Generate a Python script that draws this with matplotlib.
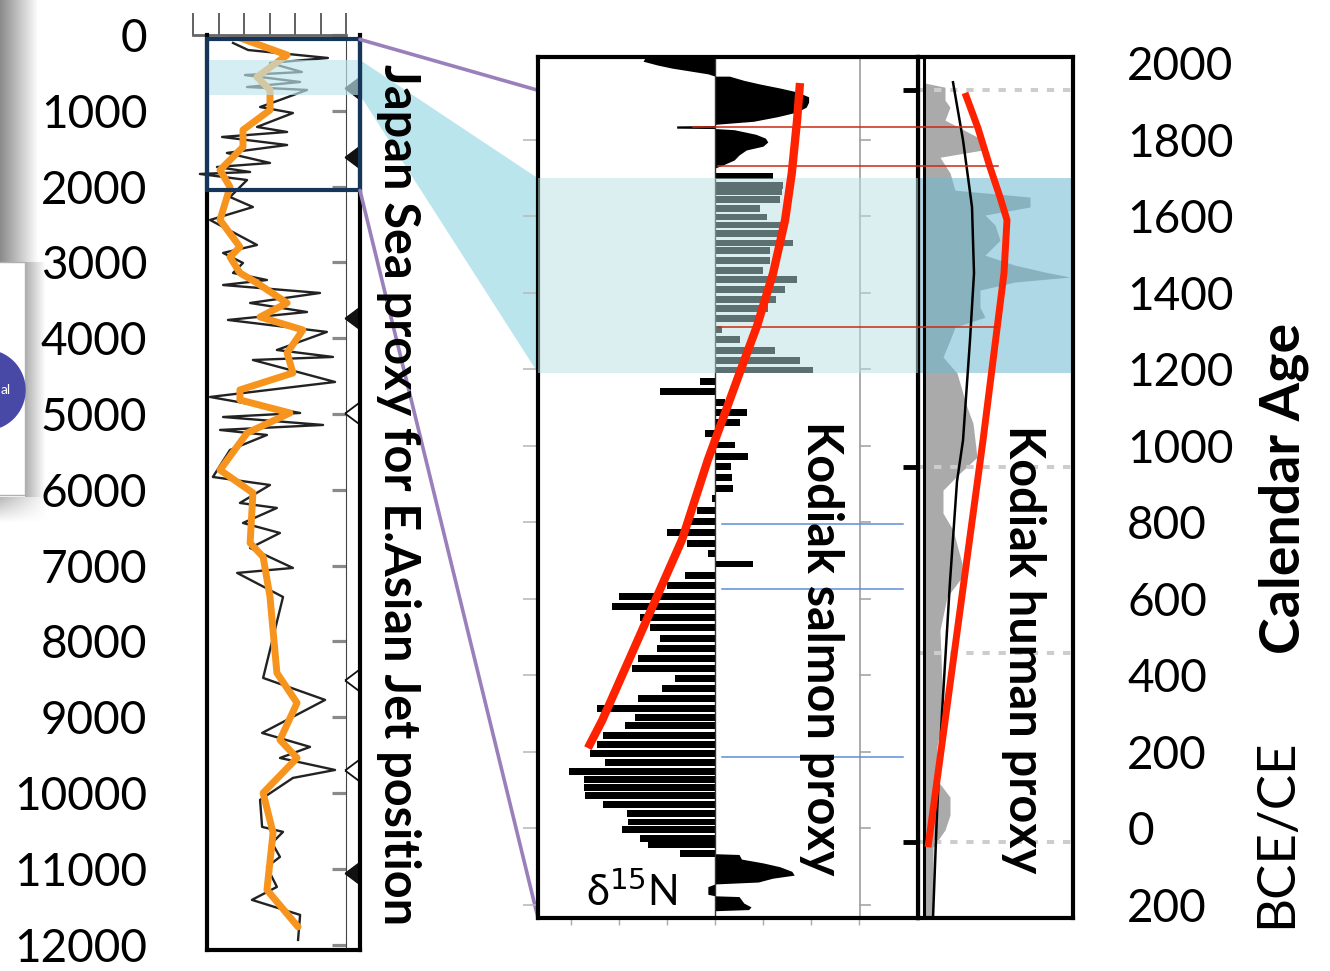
import numpy as np
import matplotlib
matplotlib.use('Agg')
import matplotlib.pyplot as plt
from matplotlib.patches import Rectangle, Polygon, Circle, ConnectionPatch
from matplotlib.transforms import blended_transform_factory

plt.rcParams['font.family'] = ['Lato', 'DejaVu Sans']

# ---------------- Japan Sea proxy (years BP) ----------------
bp_ticks = list(range(0, 12001, 1000))
bp_labels = [str(t) for t in bp_ticks]

jsp_age = [105, 198, 303, 369, 488, 528, 620, 686, 725, 857, 950, 1029, 1213, 1279, 1345,
           1451, 1556, 1688, 1741, 1807, 1833, 1913, 2137, 2269, 2440, 2770, 2875, 3007, 3139,
           3232, 3298, 3403, 3535, 3654, 3759, 3917, 4155, 4247, 4287, 4577, 4775, 4986, 5039,
           5144, 5210, 5276, 5474, 5830, 5936, 6173, 6239, 6437, 6569, 6767, 7030, 7096, 7413,
           8481, 8771, 9207, 9391, 9537, 9695, 9800, 10090, 10446, 10512, 10658, 10842, 10974,
           11238, 11409, 11607, 11937]
jsp_val = [1.57, 2.16, 5.29, 3.02, 4.27, 2.04, 4.20, 2.12, 4.47, 3.41, 2.63, 3.92, 2.51, 3.69, 1.14,
           3.69, 1.33, 3.02, 0.94, 2.24, 0.27, 2.12, 1.45, 2.35, 0.67, 2.51, 1.18, 1.96, 1.57,
           2.90, 1.18, 4.98, 2.24, 4.47, 1.37, 5.25, 3.29, 5.49, 2.35, 5.57, 0.67, 4.20, 1.18,
           5.10, 1.06, 2.90, 1.45, 0.78, 3.02, 1.84, 3.29, 1.96, 3.41, 2.24, 3.92, 1.73, 3.53,
           2.75, 5.18, 2.71, 4.59, 3.41, 5.57, 3.92, 2.63, 2.71, 3.53, 3.10, 3.41, 2.90,
           3.29, 2.31, 4.20, 4.12]

jsp_smooth_age = [0, 264, 554, 725, 989, 1253, 1477, 1781, 2005, 2440, 2796, 2928, 3139, 3271,
                  3535, 3720, 3891, 4194, 4458, 4682, 4814, 4986, 5250, 5738, 6041, 6701, 6885,
                  7413, 8415, 8811, 9299, 9537, 9998, 10525, 11277, 11765]
jsp_smooth_val = [1.53, 3.69, 2.51, 3.02, 3.02, 1.96, 1.96, 1.06, 1.45, 1.06, 1.84, 1.45, 1.84, 2.51,
                  3.69, 2.63, 4.31, 3.69, 3.92, 1.84, 1.84, 3.80, 2.12, 1.06, 2.35, 2.24, 2.75,
                  3.02, 3.29, 4.08, 3.41, 4.08, 2.75, 3.14, 2.90, 4.12]

tri_filled_age = [699, 1610, 3733, 11055]
tri_open_age = [4987, 8509, 9697]
zoom_bp = (59, 2051)
band_bp = (330, 792)

# ---------------- Kodiak salmon (calendar years) ----------------
cal_ticks = [2000, 1800, 1600, 1400, 1200, 1000, 800, 600, 400, 200, 0, -200]
cal_labels = ['2000', '1800', '1600', '1400', '1200', '1000', '800', '600', '400', '200', '0', '200']
band_ce = (1190, 1699)

salmon_bar_age = [1705, 1681, 1664, 1644, 1620, 1598, 1577, 1555, 1530, 1510, 1485, 1459, 1435,
                  1409, 1383, 1359, 1333, 1304, 1278, 1250, 1222, 1198, 1169, 1141, 1113, 1086,
                  1060, 1032, 1002, 973, 945, 916, 889, 862, 832, 802, 773, 745, 719, 691, 662,
                  636, 607, 579, 552, 525, 497, 470, 444, 418, 392, 366, 340, 313, 290, 268, 242,
                  220, 196, 173, 150, 127, 106, 85, 63, 39, 17, -3, -26, -43, -65]
salmon_bar_val = [1.21, 1.42, 1.39, 1.35, 0.94, 1.08, 1.49, 1.42, 1.63, 1.15, 1.15, 1.00, 1.70,
                  1.46, 1.28, 1.10, 0.87, 0.14, 0.52, 1.25, 1.77, 2.04, -0.31, -1.15, 0.20, 0.66,
                  0.52, -0.20, 0.42, 0.69, 0.33, 0.35, 0.38, -0.07, -0.38, -0.52, -1.00, -0.59,
                  -0.15, 0.80, -0.63, -1.00, -2.01, -2.15, -1.56, -1.35, -1.15, -1.22, -1.60,
                  -1.74, -0.83, -1.11, -1.60, -2.47, -1.67, -1.88, -2.33, -2.47, -2.60, -2.29,
                  -3.05, -2.74, -2.74, -2.71, -2.33, -1.84, -1.81, -1.94, -1.56, -1.39, -0.73]

salmon_top_age = [2016, 2005, 1995, 1987, 1979, 1972, 1966, 1966, 1955, 1945, 1935, 1925, 1912,
                  1898, 1885, 1872, 1860, 1848, 1840, 1837, 1836, 1830, 1829, 1826, 1814, 1804,
                  1794, 1783, 1773, 1760, 1747, 1733, 1726]
salmon_top_val = [-1.45, -1.5, -1.2, -0.9, -0.5, -0.15, 0.0, 0.3, 0.6, 0.95, 1.35, 1.7, 1.95,
                  1.95, 1.9, 1.7, 1.3, 0.8, 0.0, 0.0, -0.8, -0.8, 0.0, 0.4, 0.85, 1.05,
                  1.1, 1.0, 0.65, 0.5, 0.4, 0.15, 0.0]

salmon_bot_age = [-66, -68, -80, -90, -100, -112, -122, -130, -140, -145, -152, -172, -176,
                  -178, -195, -205, -212, -215]
salmon_bot_val = [0.0, 0.5, 0.55, 1.0, 1.35, 1.6, 1.65, 1.2, 0.9, 0.0, -0.15, -0.15, 0.0,
                  0.5, 0.6, 0.75, 0.7, 0.0]

salmon_trend_age = [1948, 1851, 1713, 1590, 1451, 1315, 1193, 963, 754, 518, 283, 210]
salmon_trend_val = [1.77, 1.71, 1.60, 1.46, 1.21, 0.88, 0.52, -0.15, -0.69, -1.52, -2.35, -2.65]

red_mark_age = [1833, 1731, 1310]
red_mark_x0 = [-0.46, 0.06, 0.06]
red_mark_x1 = [5.38, 5.90, 5.88]
blue_mark_age = [795, 625, 187]

# ---------------- Kodiak human ----------------
human_age = [1948, 1937, 1903, 1885, 1851, 1799, 1773, 1754, 1713, 1668, 1650, 1624, 1603, 1577,
             1537, 1498, 1472, 1454, 1441, 1428, 1407, 1362, 1336, 1310, 1276, 1232, 1190, 1101,
             1059, 970, 929, 884, 824, 780, 693, 657, 605, 518, 302, 213, 127, 82, 35, -4, -49, -240]
human_val = [0, 2.0, 2.0, 2.5, 2.0, 5.8, 5.8, 1.5, 2.5, 3.0, 10.5, 10.5, 6.0, 7.0,
             7.5, 6.0, 9.0, 12.0, 14.5, 9.0, 5.5, 5.5, 6.0, 3.0, 2.5, 1.8, 3.2, 4.2,
             4.8, 5.2, 3.5, 1.8, 1.8, 2.8, 3.7, 3.7, 2.2, 1.5, 1.8, 1.2, 1.2, 2.5, 2.5, 2.0, 0.8, 0.8]
human_fit_age = [1950, 1799, 1624, 1451, 1276, 1014, 907, 645, 302, 40, -234]
human_fit_val = [2.8, 3.8, 4.7, 4.9, 4.5, 3.8, 3.2, 2.5, 1.7, 1.2, 0.8]
human_trend_age = [1922, 1830, 1728, 1650, 1590, 1451, 1014, -49]
human_trend_val = [4.0, 5.3, 6.5, 7.5, 8.2, 7.9, 5.8, 0.3]
dotted_age = [1929, 944, 458, -36]
side_tick_age = [1929, 944, -36]

W, H = 1330, 971
fig = plt.figure(figsize=(W / 100, H / 100), dpi=100)


def box(x0, y0, x1, y1):
    return [x0 / W, 1 - y1 / H, (x1 - x0) / W, (y1 - y0) / H]


# leftover bits of the slide on the far left
ax_bg = fig.add_axes([0, 0, 1, 1], zorder=0)
ax_bg.axis('off')
ys, xs = np.mgrid[0:530, 0:50]
alpha = np.zeros((530, 50))
top = ys < 262
alpha[top] = np.clip(1 - xs[top] / 38, 0, 1) * 0.65
mid = (ys >= 262) & (ys < 497) & (xs >= 25)
alpha[mid] = np.clip(1 - (xs[mid] - 25) / 20, 0, 1) * 0.45
bot = ys >= 497
alpha[bot] = np.clip(1 - (ys[bot] - 497) / 25, 0, 1) * np.clip(1 - xs[bot] / 48, 0, 1) * 0.4
img = np.zeros((530, 50, 4))
img[..., :3] = 0.3
img[..., 3] = alpha
ax_bg.imshow(img, extent=(0, 50, 530, 0), interpolation='bilinear', aspect='auto')
ax_bg.add_patch(Rectangle((-3, 262), 28, 233, facecolor='white', edgecolor='#b0b0b0', lw=1))
ax_bg.add_patch(Circle((-15, 390), 40, color='#4848a6'))
ax_bg.text(1, 390, 'al', color='white', fontsize=10, va='center')
ax_bg.set_xlim(0, W)
ax_bg.set_ylim(H, 0)

# ---- left: Japan Sea record ----
ax_j = fig.add_axes(box(193, 35, 346, 950), zorder=1)
ax_j.patch.set_visible(False)
ax_j.plot(jsp_val, jsp_age, color='#222222', lw=1.7)
ax_j.plot(jsp_smooth_val, jsp_smooth_age, color='#f7941d', lw=5, solid_joinstyle='round',
          solid_capstyle='round')
ax_j.set_xlim(0, 6)
ax_j.set_ylim(12070, 0)
ax_j.set_xticks(range(7))
ax_j.set_yticks(bp_ticks)
ax_j.tick_params(axis='x', top=True, bottom=False, direction='out', length=16, width=1.3,
                 color='#555555', labeltop=False, labelbottom=False)
ax_j.tick_params(axis='y', left=False, right=True, direction='in', length=10, width=2.3,
                 color='#8a8a8a', labelleft=False, labelright=False)
for s in ['left', 'bottom']:
    ax_j.spines[s].set_visible(False)
ax_j.spines['top'].set_color('#666666')
ax_j.spines['top'].set_linewidth(2)
ax_j.spines['right'].set_color('#444444')
ax_j.spines['right'].set_linewidth(0.8)

ax_box = fig.add_axes(box(207, 35, 360, 950), zorder=2)
ax_box.patch.set_visible(False)
ax_box.set_xlim(0, 1)
ax_box.set_ylim(12070, 0)
ax_box.set_xticks([])
ax_box.set_yticks(bp_ticks)
ax_box.set_yticklabels(bp_labels)
ax_box.tick_params(axis='y', length=0, pad=43, labelsize=33)
ax_box.spines['top'].set_visible(False)
for s in ['left', 'right', 'bottom']:
    ax_box.spines[s].set_linewidth(3)
    ax_box.spines[s].set_color('black')
bt_box = blended_transform_factory(ax_box.transAxes, ax_box.transData)
tri = [(-1, 0), (1, -1.5), (1, 1.5), (-1, 0)]
ax_box.plot([0.945] * len(tri_filled_age), tri_filled_age, ls='none', marker=tri, ms=16,
            color='#111111', transform=bt_box, clip_on=False, zorder=2)
ax_box.plot([0.945] * len(tri_open_age), tri_open_age, ls='none', marker=tri, ms=16,
            mfc='white', mec='#111111', mew=1.3, transform=bt_box, clip_on=False, zorder=2)
ax_box.axhspan(band_bp[0], band_bp[1], color='#bfe6ee', alpha=0.65, lw=0, zorder=3)
ax_box.add_patch(Rectangle((0, zoom_bp[0]), 1, zoom_bp[1] - zoom_bp[0], transform=bt_box,
                           fill=False, edgecolor='#15355a', lw=3, clip_on=False, zorder=4))

# ---- middle: Kodiak salmon ----
ax_mid = fig.add_axes(box(538, 57, 918, 918), zorder=3)
ax_right = fig.add_axes(box(918, 57, 1073, 918), zorder=2)
bt_mid = blended_transform_factory(ax_mid.transAxes, ax_mid.transData)

ax_mid.set_xlim(-3.69, 4.23)
ax_mid.set_ylim(-234, 2016)
ax_mid.barh(salmon_bar_age, salmon_bar_val, height=18, color='black', zorder=2)
ax_mid.fill_betweenx(salmon_top_age, 0, salmon_top_val, color='black', lw=0, zorder=2)
ax_mid.fill_betweenx(salmon_bot_age, 0, salmon_bot_val, color='black', lw=0, zorder=2)
ax_mid.axvline(0, color='#333333', lw=1, zorder=2)
ax_mid.axvline(3.02, color='#a5a5a5', lw=1.3, zorder=1)
for a in cal_ticks[1:]:
    ax_mid.plot([3.02, 3.22], [a, a], color='#a5a5a5', lw=1.2, zorder=1)
ax_mid.axhspan(band_ce[0], band_ce[1], color=(186 / 255, 225 / 255, 226 / 255), alpha=0.5,
               lw=0, zorder=3)
for a, x0, x1 in zip(red_mark_age, red_mark_x0, red_mark_x1):
    ax_mid.plot([x0, x1], [a, a], color='#cc2a12', lw=1.1, clip_on=False, zorder=4)
for a in blue_mark_age:
    ax_mid.plot([0.15, 3.92], [a, a], color='#5b8ed6', lw=1.1, zorder=4)
for a in side_tick_age:
    ax_mid.plot([3.92, 4.23], [a, a], color='black', lw=3.5, solid_capstyle='butt',
                clip_on=False, zorder=4)
ax_mid.plot(salmon_trend_val, salmon_trend_age, color='#ff2200', lw=6, solid_capstyle='butt',
            zorder=5)
ax_mid.set_xticks([-3, -2, -1, 0, 1, 2, 3])
ax_mid.set_yticks(cal_ticks[1:])
ax_mid.tick_params(axis='x', direction='out', length=5, width=1, color='#aaaaaa',
                   labelbottom=False)
ax_mid.tick_params(axis='y', direction='out', length=11, width=1.2, color='#bbbbbb',
                   labelleft=False)
for s in ax_mid.spines.values():
    s.set_linewidth(3)
ax_mid.text(0.747, 0.3136, 'Kodiak salmon proxy', rotation=-90, ha='center', va='center',
            transform=ax_mid.transAxes, fontsize=35, fontweight='bold', zorder=6)
ax_mid.text(0.247, 0.03, 'δ$^{15}$N', ha='center', va='center',
            transform=ax_mid.transAxes, fontsize=30, zorder=6)

# ---- right: Kodiak human ----
ax_right.set_xlim(-0.7, 14.8)
ax_right.set_ylim(-234, 2016)
ax_right.fill_betweenx(human_age, 0, human_val, color='#aaaaaa', lw=0, zorder=1)
for a in dotted_age:
    ax_right.axhline(a, color='#cdcdcd', lw=2.9, ls=(0, (1.8, 2.2)), zorder=1.5)
ax_right.axhspan(band_ce[0], band_ce[1], color=(110 / 255, 185 / 255, 210 / 255), alpha=0.55,
                 lw=0, zorder=2)
ax_right.axvline(-0.15, color='black', lw=2.2, zorder=3)
ax_right.plot(human_fit_val, human_fit_age, color='black', lw=1.8, zorder=3)
ax_right.plot(human_trend_val, human_trend_age, color='#ff2200', lw=5, solid_capstyle='butt',
              zorder=4)
ax_right.set_xticks([])
ax_right.yaxis.tick_right()
ax_right.set_yticks(cal_ticks)
ax_right.set_yticklabels(cal_labels)
ax_right.tick_params(axis='y', length=0, pad=39, labelsize=33)
for s in ax_right.spines.values():
    s.set_linewidth(3)
ax_right.text(0.68, 0.312, 'Kodiak human proxy', rotation=-90, ha='center', va='center',
              transform=ax_right.transAxes, fontsize=35, fontweight='bold', zorder=6)

# ---- connectors between the panels ----
to_fig = fig.transFigure.inverted()
poly_pts = [to_fig.transform(bt_box.transform((1, band_bp[0]))),
            to_fig.transform(bt_mid.transform((0, band_ce[1]))),
            to_fig.transform(bt_mid.transform((0, band_ce[0]))),
            to_fig.transform(bt_box.transform((1, band_bp[1])))]
fig.add_artist(Polygon(poly_pts, closed=True, transform=fig.transFigure,
                       facecolor='#bae5ec', edgecolor='none', zorder=1.5))
for a_bp, a_ce in [(zoom_bp[0], 1929), (zoom_bp[1], -234)]:
    con = ConnectionPatch(xyA=(1, a_bp), coordsA=bt_box, xyB=(0, a_ce), coordsB=bt_mid,
                          color='#9a80bb', lw=2.6, zorder=2.5)
    fig.add_artist(con)

fig.text(398 / W, 1 - 495 / H, 'Japan Sea proxy for E.Asian Jet position', rotation=-90,
         ha='center', va='center', fontsize=35, fontweight='bold', zorder=5)
fig.text(1284 / W, 1 - 488 / H, 'Calendar Age', rotation=90, ha='center', va='center',
         fontsize=40, fontweight='bold')
fig.text(1277 / W, 1 - 833 / H, 'BCE/CE', rotation=90, ha='center', va='center', fontsize=38)

fig.savefig('out.png', dpi=100)
